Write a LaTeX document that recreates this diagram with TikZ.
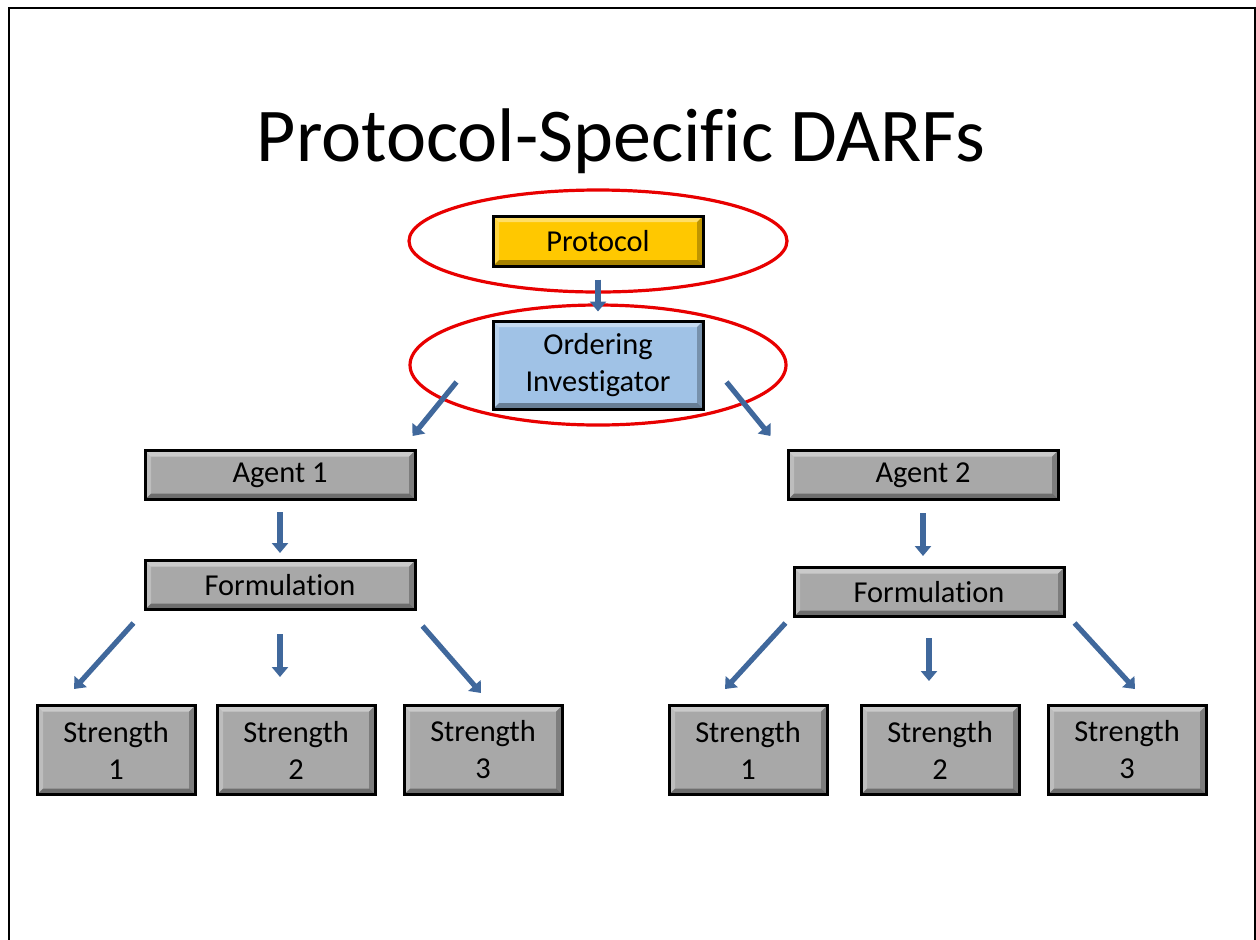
\documentclass[tikz,border=0pt]{standalone}
\usepackage{fontspec}
\setmainfont{Carlito}[RawFeature={-liga}]
\usetikzlibrary{arrows.meta}

\definecolor{protoyellow}{RGB}{255,200,0}
\definecolor{invblue}{RGB}{160,194,230}
\definecolor{boxgray}{RGB}{168,168,168}
\definecolor{arrowblue}{RGB}{64,104,156}
\definecolor{ringred}{RGB}{232,0,0}

\tikzset{
    bevelbox/.style={draw = black, line width = 1.5pt, align = center, inner sep = 2pt,
        font = \fontsize{15.2}{18.5}\selectfont,
        path picture={
            \fill[white, opacity = 0.4] (path picture bounding box.north west)
                -- (path picture bounding box.north east)
                -- ([xshift = -3pt, yshift = -3pt]path picture bounding box.north east)
                -- ([xshift = 3pt, yshift = -3pt]path picture bounding box.north west) -- cycle;
            \fill[white, opacity = 0.25] (path picture bounding box.north west)
                -- (path picture bounding box.south west)
                -- ([xshift = 3pt, yshift = 3pt]path picture bounding box.south west)
                -- ([xshift = 3pt, yshift = -3pt]path picture bounding box.north west) -- cycle;
            \fill[black, opacity = 0.35] (path picture bounding box.south west)
                -- (path picture bounding box.south east)
                -- ([xshift = -3pt, yshift = 3pt]path picture bounding box.south east)
                -- ([xshift = 3pt, yshift = 3pt]path picture bounding box.south west) -- cycle;
            \fill[black, opacity = 0.25] (path picture bounding box.north east)
                -- (path picture bounding box.south east)
                -- ([xshift = -3pt, yshift = 3pt]path picture bounding box.south east)
                -- ([xshift = -3pt, yshift = -3pt]path picture bounding box.north east) -- cycle;
        }},
    topbox/.style={bevelbox, minimum width = 105pt, minimum height = 25pt},
    midbox/.style={bevelbox, fill = boxgray, minimum width = 135pt, minimum height = 24.5pt},
    leafbox/.style={bevelbox, fill = boxgray, minimum width = 79pt, minimum height = 44.5pt},
    flow/.style={draw = arrowblue, line width = 2.6pt, -{Triangle[width = 8pt, length = 5pt]}},
    ring/.style={draw = ringred, line width = 1.6pt}
}

\begin{document}
\begin{tikzpicture}[x = 0.5pt, y = -0.5pt]
        \useasboundingbox (0, 0) rectangle (1256, 939);
        \draw[line width = 1pt] (9, 945) -- (9, 8) -- (1255, 8) -- (1255, 945);

        \node (title) at (621, 141) {\fontsize{38}{46}\selectfont Protocol-Specific DARFs};

        \node[topbox, fill = protoyellow] (P) at (598, 241) {Protocol};
        \node[topbox, fill = invblue, minimum height = 44pt] (OI) at (598, 365)
            {Ordering\\Investigator};

        \node[midbox] (A1) at (280, 475) {Agent 1};
        \node[midbox] (A2) at (923, 475) {Agent 2};
        \node[midbox] (FL) at (280, 585) {Formulation};
        \node[midbox] (FR) at (929, 592) {Formulation};

        \node[leafbox] (L1) at (116, 750) {Strength\\1};
        \node[leafbox] (L2) at (296, 750) {Strength\\2};
        \node[leafbox] (L3) at (483, 750) {Strength\\3};
        \node[leafbox] (R1) at (748, 750) {Strength\\1};
        \node[leafbox] (R2) at (940, 750) {Strength\\2};
        \node[leafbox] (R3) at (1127, 750) {Strength\\3};

        \draw[ring] (P) ellipse [x radius = 189, y radius = 51];
        \draw[ring] (OI) ellipse [x radius = 188, y radius = 60];

        \draw[flow, shorten <= 6pt, shorten >= 4pt] (P) -- (OI);
        \draw[flow] ([shift = {(-35, 17)}]OI.west) -- ([shift = {(-4, -13)}]A1.north east);
        \draw[flow] ([shift = {(22, 17)}]OI.east) -- ([shift = {(-16, -13)}]A2.north west);

        \draw[flow, shorten <= 5.5pt, shorten >= 3pt] (A1) -- (FL);
        \draw[flow, shorten <= 6pt, shorten >= 5pt] (A2.south) -- (A2.south |- FR.north);

        \draw[flow] ([shift = {(-10, 12)}]FL.south west) -- ([shift = {(-42, -15)}]L1.north);
        \draw[flow, shorten <= 11.5pt, shorten >= 13.5pt] (FL.south) -- (FL.south |- L2.north);
        \draw[flow] ([shift = {(6, 15)}]FL.south east) -- ([shift = {(-2, -11)}]L3.north);

        \draw[flow] ([shift = {(-7, 5)}]FR.south west) -- ([shift = {(-23, -15)}]R1.north);
        \draw[flow, shorten <= 10pt, shorten >= 11.5pt] (FR.south) -- (FR.south |- R2.north);
        \draw[flow] ([shift = {(9, 5)}]FR.south east) -- ([shift = {(8, -15)}]R3.north);
    \end{tikzpicture}
\end{document}
